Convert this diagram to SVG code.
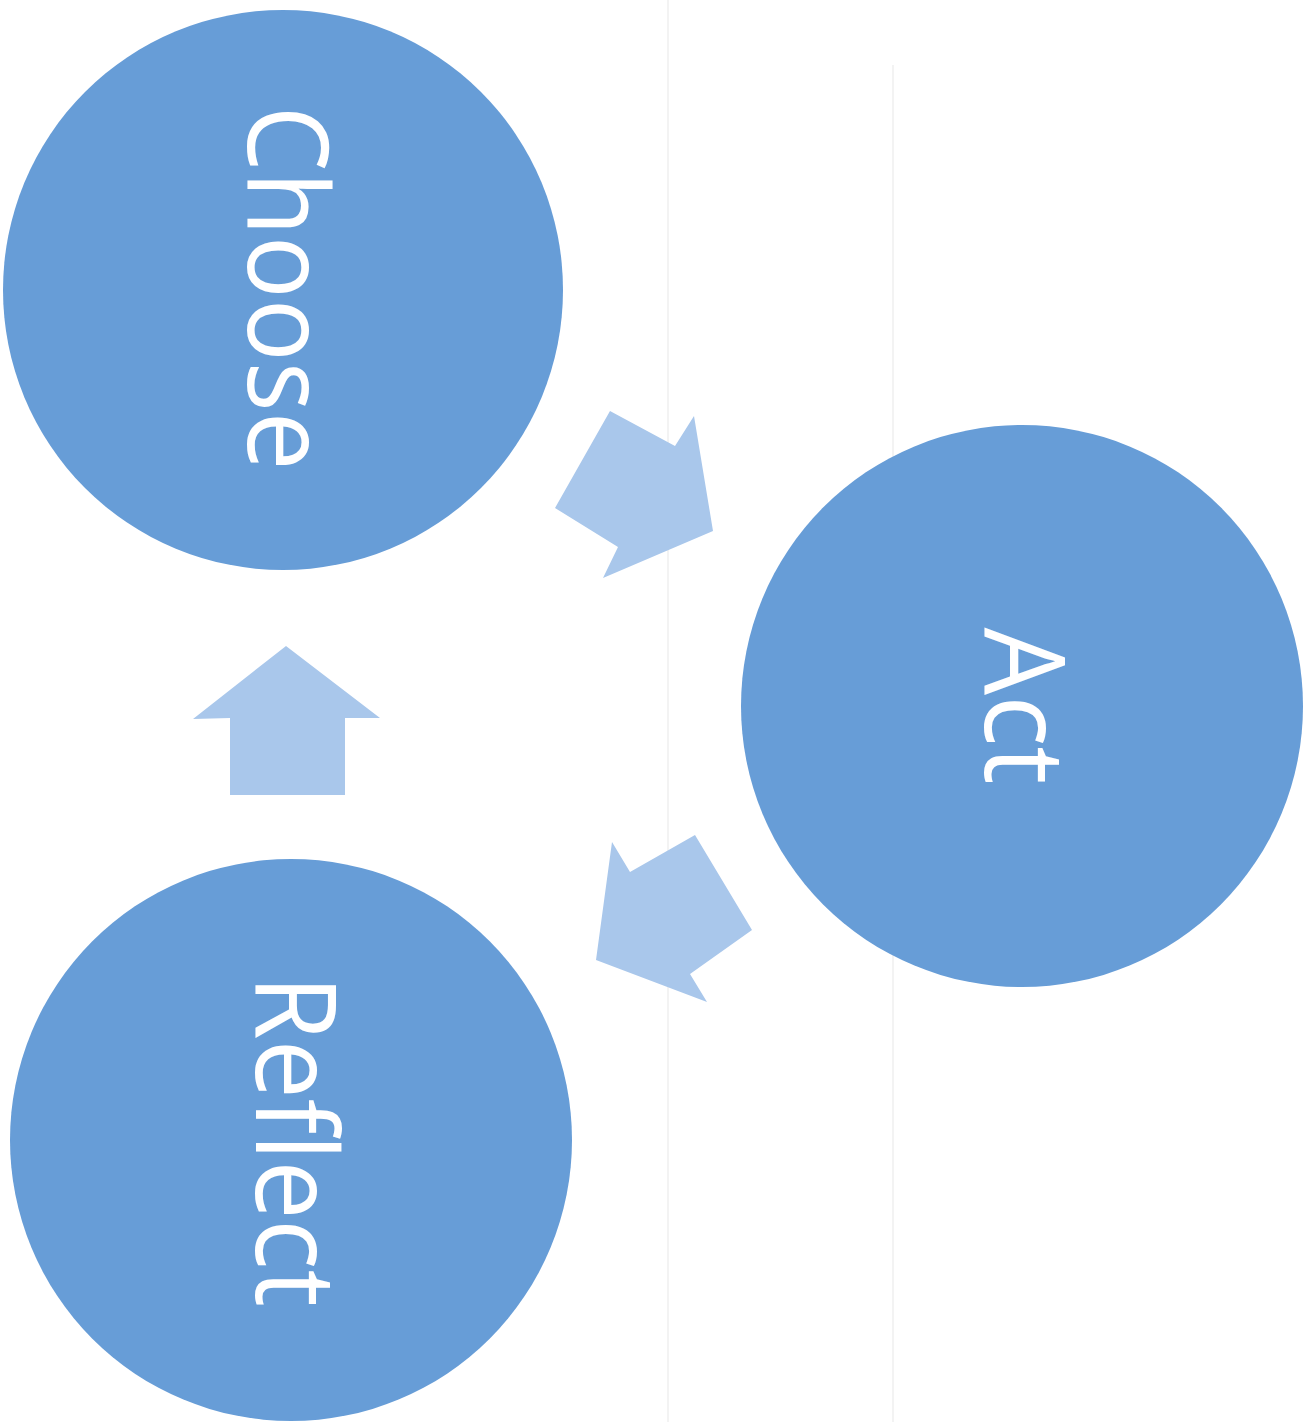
<svg xmlns="http://www.w3.org/2000/svg" width="1315" height="1422" viewBox="0 0 1315 1422">
  <style>
    .node { fill: #679dd7; }
    .label { fill: #ffffff; font-family: "Open Sans", "Noto Sans", "Liberation Sans", sans-serif; font-size: 112px; text-anchor: middle; }
    .arrow { fill: #a9c7eb; }
    .scan { stroke: #efefef; stroke-width: 1.5; fill: none; }
  </style>
  <rect width="1315" height="1422" fill="#ffffff"/>
  <g id="scan-lines">
    <line class="scan" x1="668" y1="0" x2="668" y2="1422"/>
    <line class="scan" x1="893" y1="65" x2="893" y2="1422"/>
  </g>
  <g id="connectors">
    <polygon class="arrow" points="610,411 675,446 694,416 713,531 603,578 618,547 555,508"/>
    <polygon class="arrow" points="286,646 380,718 345,718 345,795 230,795 230,718 193,719"/>
    <polygon class="arrow" points="695,835 752,930 690,974 707,1002 596,960 612,842 630,872"/>
  </g>
  <g id="node-choose">
    <circle class="node" cx="283" cy="290" r="280"/>
    <text class="label" transform="translate(248,288) rotate(90)" textLength="365" lengthAdjust="spacingAndGlyphs">Choose</text>
  </g>
  <g id="node-act">
    <circle class="node" cx="1022" cy="706" r="281"/>
    <text class="label" transform="translate(985,706) rotate(90)" textLength="157" lengthAdjust="spacingAndGlyphs">Act</text>
  </g>
  <g id="node-reflect">
    <circle class="node" cx="291" cy="1140" r="281"/>
    <text class="label" transform="translate(256,1141) rotate(90)" textLength="332" lengthAdjust="spacingAndGlyphs">Reflect</text>
  </g>
</svg>
